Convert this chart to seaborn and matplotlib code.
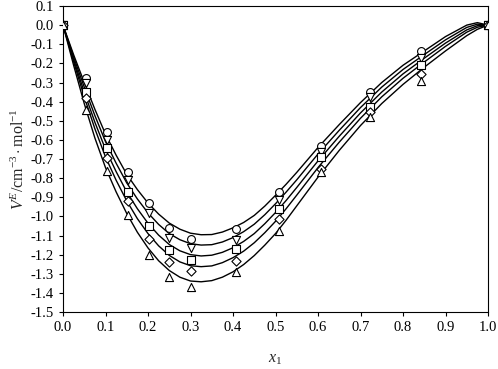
import numpy as np
import pandas as pd
import matplotlib
matplotlib.use("Agg")
import matplotlib.pyplot as plt
import seaborn as sns

x_exp = [0.0, 0.053, 0.103, 0.152, 0.202, 0.250, 0.300, 0.407, 0.508, 0.607, 0.722, 0.842, 1.0]
ve_circle = [0.0, -0.279, -0.561, -0.767, -0.932, -1.063, -1.119, -1.068, -0.871, -0.631, -0.348, -0.136, 0.0]
ve_invtri = [0.0, -0.300, -0.600, -0.810, -0.981, -1.112, -1.167, -1.124, -0.915, -0.665, -0.375, -0.174, 0.0]
ve_square = [0.0, -0.350, -0.641, -0.871, -1.049, -1.176, -1.230, -1.173, -0.962, -0.690, -0.427, -0.209, 0.0]
ve_diamond = [0.0, -0.380, -0.694, -0.918, -1.119, -1.237, -1.288, -1.234, -1.016, -0.750, -0.453, -0.253, 0.0]
ve_triangle = [0.0, -0.444, -0.762, -0.993, -1.202, -1.319, -1.368, -1.293, -1.075, -0.767, -0.479, -0.293, 0.0]

# fitted curves
x_fit = [0.0, 0.025, 0.05, 0.075,
         0.1, 0.125, 0.15, 0.175, 0.2, 0.225, 0.25, 0.275, 0.3, 0.325, 0.35, 0.375,
         0.4, 0.425, 0.45, 0.475, 0.5, 0.525, 0.55, 0.575, 0.6,
         0.65, 0.7, 0.75, 0.8, 0.85, 0.9, 0.95, 0.975, 1.0]
fit_1 = [0.0, -0.155, -0.300, -0.440,
         -0.570, -0.680, -0.780, -0.860, -0.930, -0.988, -1.035, -1.067, -1.088, -1.096, -1.095, -1.082,
         -1.060, -1.032, -0.995, -0.946, -0.890, -0.832, -0.770, -0.705, -0.640,
         -0.520, -0.405, -0.300, -0.210, -0.135, -0.060, 0.000, 0.013, 0.0]
fit_2 = [0.0, -0.167, -0.324, -0.473,
         -0.609, -0.722, -0.825, -0.909, -0.982, -1.042, -1.090, -1.122, -1.143, -1.150, -1.148, -1.134,
         -1.111, -1.080, -1.041, -0.991, -0.934, -0.873, -0.809, -0.741, -0.674,
         -0.550, -0.431, -0.324, -0.232, -0.154, -0.077, -0.012, 0.005, 0.0]
fit_3 = [0.0, -0.180, -0.350, -0.508,
         -0.649, -0.766, -0.872, -0.960, -1.036, -1.098, -1.147, -1.180, -1.200, -1.207, -1.203, -1.188,
         -1.164, -1.131, -1.090, -1.038, -0.980, -0.917, -0.849, -0.779, -0.710,
         -0.581, -0.459, -0.350, -0.255, -0.173, -0.094, -0.025, -0.003, 0.0]
fit_4 = [0.0, -0.192, -0.375, -0.542,
         -0.689, -0.811, -0.919, -1.012, -1.090, -1.154, -1.204, -1.238, -1.258, -1.263, -1.259, -1.242,
         -1.216, -1.182, -1.138, -1.085, -1.026, -0.960, -0.889, -0.817, -0.745,
         -0.612, -0.487, -0.375, -0.278, -0.193, -0.111, -0.037, -0.011, 0.0]
fit_5 = [0.0, -0.210, -0.410, -0.590,
         -0.745, -0.872, -0.985, -1.083, -1.165, -1.232, -1.283, -1.318, -1.338, -1.342, -1.336, -1.318,
         -1.290, -1.252, -1.205, -1.150, -1.090, -1.020, -0.945, -0.870, -0.795,
         -0.655, -0.525, -0.410, -0.310, -0.220, -0.135, -0.055, -0.022, 0.0]

sns.set_style("ticks")
plt.rcParams['font.family'] = ['Liberation Serif', 'DejaVu Serif']
plt.rcParams['mathtext.fontset'] = 'custom'
plt.rcParams['mathtext.rm'] = 'Liberation Serif'
plt.rcParams['mathtext.it'] = 'Liberation Serif:italic'
plt.rcParams['axes.unicode_minus'] = False

fig = plt.figure(figsize=(4.98, 3.69), dpi=100)
ax = fig.add_axes([63 / 498, 1 - 312 / 369, (488 - 63) / 498, (312 - 6) / 369])

for curve in [fit_1, fit_2, fit_3, fit_4, fit_5]:
    sns.lineplot(x=x_fit, y=curve, ax=ax, color='black', linewidth=1.0,
                 sort=False, estimator=None, zorder=2)

series = [(ve_circle, 'o', 32), (ve_invtri, 'v', 34), (ve_square, 's', 28),
          (ve_diamond, 'D', 22), (ve_triangle, '^', 34)]
for vals, mk, size in series:
    sns.scatterplot(x=x_exp, y=vals, ax=ax, marker=mk, s=size, color='white',
                    edgecolor='black', linewidth=0.8, zorder=3)

ax.set_xlim(0, 1.0)
ax.set_ylim(-1.5, 0.1)
ax.set_xticks(np.arange(0, 1.01, 0.1))
ax.set_yticks(np.arange(-1.5, 0.101, 0.1))
ax.set_xticklabels([f"{v:.1f}" for v in np.arange(0, 1.01, 0.1)])
ax.set_yticklabels([f"{v:.1f}".replace("-0.0", "0.0") for v in np.arange(-1.5, 0.101, 0.1)])
ax.tick_params(direction='out', length=3, width=0.8, labelsize=10.5, colors='black')
for sp in ax.spines.values():
    sp.set_visible(True)
    sp.set_linewidth(0.8)
    sp.set_color('black')

ax.set_xlabel(r'$x_1$', fontsize=11.5, labelpad=12)
ax.set_ylabel(r'$V^{E}$/cm$^{-3}\cdot$mol$^{-1}$', fontsize=11.5, labelpad=2)

fig.savefig("out.png", dpi=100)
